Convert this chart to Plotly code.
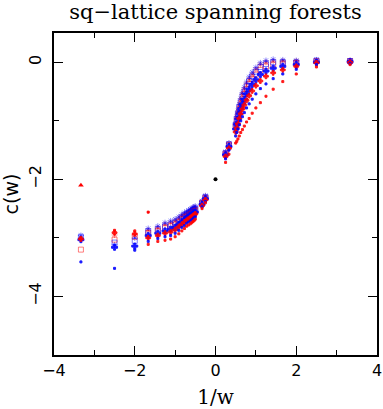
import plotly.graph_objects as go

# w values; plotted against 1/w
w_vals = [-0.3, -0.4, -0.5, -0.6, -0.7, -0.8, -0.9, -1.0, -1.1, -1.2,
          -1.3, -1.4, -1.5, -1.6, -1.7, -1.8, -1.9, -2.0, -3.0, -4.0,
          4.0, 3.0, 2.0, 1.9, 1.8, 1.7, 1.6, 1.5, 1.4, 1.3,
          1.2, 1.1, 1.0, 0.9, 0.8, 0.7, 0.6, 0.5, 0.4, 0.3]
inv_w = [1.0 / w for w in w_vals]

# c(w) estimates, one list per lattice size / boundary condition
red_a = [-3.00, -2.87, -2.88, -3.11, -3.06, -3.04, -3.02, -2.98, -2.93, -2.88,
         -2.84, -2.80, -2.78, -2.76, -2.74, -2.72, -2.70, -2.68, -2.50, -2.40,
         -1.71, -1.57, -1.38, -1.35, -1.31, -1.26, -1.20, -1.15, -1.09, -1.02,
         -0.96, -0.87, -0.78, -0.69, -0.58, -0.46, -0.33, -0.20, -0.08, -0.04]
blue_b = [-3.41, -3.52, -3.21, -3.06, -3.01, -2.98, -2.96, -2.92, -2.87, -2.82,
          -2.79, -2.75, -2.73, -2.71, -2.69, -2.67, -2.65, -2.64, -2.47, -2.38,
          -1.65, -1.50, -1.26, -1.20, -1.14, -1.07, -1.00, -0.93, -0.86, -0.78,
          -0.71, -0.63, -0.54, -0.45, -0.37, -0.28, -0.20, -0.12, -0.04, -0.02]
red_c = [-3.02, -2.91, -2.93, -3.00, -2.96, -2.92, -2.90, -2.86, -2.81, -2.77,
         -2.73, -2.70, -2.68, -2.66, -2.64, -2.62, -2.61, -2.59, -2.45, -2.35,
         -1.61, -1.47, -1.19, -1.12, -1.05, -0.96, -0.88, -0.80, -0.73, -0.65,
         -0.57, -0.49, -0.40, -0.32, -0.24, -0.18, -0.13, -0.07, -0.01, 0.00]
blue_d = [-3.03, -3.16, -3.14, -2.96, -2.92, -2.88, -2.85, -2.82, -2.77, -2.73,
          -2.69, -2.66, -2.64, -2.62, -2.61, -2.59, -2.57, -2.56, -2.43, -2.33,
          -1.58, -1.44, -1.14, -1.06, -0.97, -0.88, -0.79, -0.71, -0.63, -0.54,
          -0.46, -0.38, -0.30, -0.21, -0.15, -0.10, -0.07, -0.04, 0.00, 0.01]
red_e = [-3.20, -3.03, -2.98, -2.92, -2.88, -2.83, -2.80, -2.77, -2.73, -2.68,
         -2.65, -2.63, -2.61, -2.59, -2.57, -2.55, -2.54, -2.53, -2.41, -2.32,
         -1.56, -1.41, -1.10, -1.00, -0.91, -0.81, -0.72, -0.63, -0.54, -0.46,
         -0.37, -0.29, -0.21, -0.13, -0.07, -0.04, -0.02, -0.01, 0.02, 0.02]
blue_f = [-2.98, -3.08, -3.05, -2.89, -2.85, -2.80, -2.77, -2.74, -2.70, -2.66,
          -2.62, -2.60, -2.58, -2.56, -2.55, -2.53, -2.52, -2.50, -2.40, -2.30,
          -1.55, -1.40, -1.07, -0.97, -0.88, -0.77, -0.68, -0.58, -0.50, -0.41,
          -0.32, -0.24, -0.16, -0.08, -0.03, 0.00, 0.00, 0.00, 0.03, 0.02]
red_g = [-3.00, -2.95, -2.95, -2.87, -2.83, -2.77, -2.74, -2.71, -2.67, -2.63,
         -2.60, -2.58, -2.56, -2.54, -2.52, -2.50, -2.49, -2.48, -2.38, -2.29,
         -1.54, -1.39, -1.06, -0.95, -0.85, -0.75, -0.65, -0.55, -0.46, -0.37,
         -0.29, -0.21, -0.12, -0.04, 0.00, 0.02, 0.02, 0.02, 0.03, 0.03]
blue_h = [-2.96, -3.12, -3.00, -2.84, -2.80, -2.74, -2.71, -2.68, -2.64, -2.60,
          -2.57, -2.55, -2.53, -2.51, -2.50, -2.48, -2.47, -2.46, -2.37, -2.28,
          -1.53, -1.38, -1.04, -0.93, -0.83, -0.72, -0.62, -0.52, -0.43, -0.34,
          -0.25, -0.17, -0.09, -0.01, 0.03, 0.05, 0.04, 0.03, 0.04, 0.03]

# odd points
tri_x = [-3.333]
tri_y = [-2.10]
odd_x = [-1.667]
odd_y = [-2.56]
inf_x = [0.0]
inf_y = [-2.0]

RED = "#ff0000"
BLUE = "#0000ff"

series = [
    (red_g, RED, "asterisk-open", 5, 0.45),
    (blue_h, BLUE, "asterisk-open", 5, 0.45),
    (red_e, RED, "square-open", 5, 0.5),
    (blue_f, BLUE, "square-open", 5, 0.5),
    (blue_d, BLUE, "cross", 5, 0.9),
    (red_c, RED, "cross", 4, 0.9),
    (blue_b, BLUE, "square", 2, 0.9),
    (red_a, RED, "square", 2, 0.9),
]

fig = go.Figure()

for ys, col, sym, size, op in series:
    fig.add_trace(go.Scatter(
        x=inv_w, y=ys, mode="markers",
        marker=dict(symbol=sym, size=size, color=col, opacity=op,
                    line=dict(width=1, color=col)),
        showlegend=False))

fig.add_trace(go.Scatter(x=tri_x, y=tri_y, mode="markers",
                         marker=dict(symbol="triangle-up", size=5, color=RED),
                         showlegend=False))
fig.add_trace(go.Scatter(x=odd_x, y=odd_y, mode="markers",
                         marker=dict(symbol="square", size=2, color=RED,
                                     line=dict(width=1, color=RED)),
                         showlegend=False))
fig.add_trace(go.Scatter(x=inf_x, y=inf_y, mode="markers",
                         marker=dict(symbol="circle", size=4, color="black"),
                         showlegend=False))

axis_common = dict(
    showgrid=False, zeroline=False, showline=True, linecolor="black",
    linewidth=1.5, mirror="allticks", ticks="inside", ticklen=9, tickwidth=1.2,
    tickcolor="black", tick0=0, dtick=2, automargin=False,
    minor=dict(ticks="inside", ticklen=5, tickwidth=1.2, tickcolor="black",
               tick0=0, dtick=1),
    tickfont=dict(family="DejaVu Sans", size=16, color="black"),
)

fig.update_layout(
    width=383, height=409,
    margin=dict(l=54, r=6, t=33, b=54, autoexpand=False),
    plot_bgcolor="white", paper_bgcolor="white",
    hovermode=False,
    title=dict(text="sq\u2212lattice spanning forests", x=0.5, xanchor="center",
               xref="paper", yref="container", y=0.972, yanchor="middle",
               automargin=False,
               font=dict(family="DejaVu Serif", size=21, color="black")),
    xaxis=dict(range=[-4, 4],
               title=dict(text="1/w", standoff=16,
                          font=dict(family="DejaVu Serif", size=20, color="black")),
               **axis_common),
    yaxis=dict(range=[-5, 0.5], tickangle=-90, ticklabelstandoff=5,
               title=dict(text="c(w)", standoff=14,
                          font=dict(family="DejaVu Sans", size=19, color="black")),
               **axis_common),
)

# drop the default page margin so the figure sits at the window's corner
fig.write_html("out.html", config={"displayModeBar": False},
               post_script="document.body.style.margin='0';")
